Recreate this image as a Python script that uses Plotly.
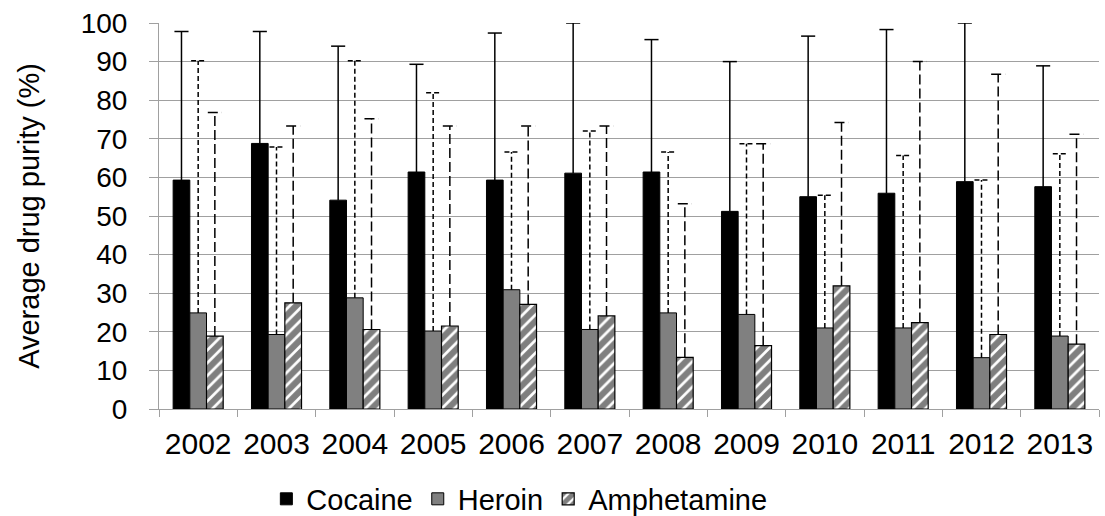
import numpy as np
import plotly.graph_objects as go

years = ["2002", "2003", "2004", "2005", "2006", "2007", "2008", "2009", "2010", "2011", "2012", "2013"]
cocaine = [59.3, 68.8, 54.1, 61.4, 59.3, 61.1, 61.4, 51.2, 55.0, 55.9, 58.9, 57.6]
cocaine_sd = [38.5, 29.0, 39.9, 27.9, 38.1, 38.9, 34.3, 38.8, 41.6, 42.4, 41.1, 31.3]
heroin = [24.9, 19.3, 28.8, 20.2, 30.9, 20.6, 24.9, 24.5, 21.0, 21.0, 13.3, 18.9]
heroin_sd = [65.3, 48.6, 61.4, 61.7, 35.7, 51.4, 41.7, 44.2, 34.4, 44.7, 46.0, 47.2]
amphetamine = [18.9, 27.5, 20.6, 21.5, 27.1, 24.1, 13.4, 16.4, 31.9, 22.4, 19.3, 16.8]
amphetamine_sd = [57.9, 45.8, 54.6, 51.8, 46.2, 49.2, 39.8, 52.3, 42.3, 67.6, 67.4, 54.4]
y_ticks = list(range(0, 101, 10))

FONT = "Liberation Sans, Arial, sans-serif"
GRID = "#a0a0a0"

x = np.arange(len(years))
w = 0.213
cap = 0.09

series = [
    ("Cocaine", cocaine, cocaine_sd, -1.5 * w, dict(color="black", line=dict(color="black", width=1)), "solid"),
    ("Heroin", heroin, heroin_sd, -0.5 * w, dict(color="#808080", line=dict(color="black", width=1)), "5px,3px"),
    ("Amphetamine", amphetamine, amphetamine_sd, 0.5 * w,
     dict(color="white", line=dict(color="black", width=1.2),
          pattern=dict(shape="/", fgcolor="black", bgcolor="white", size=9, solidity=0.7,
                       fillmode="overlay")), "10px,4px"),
]

fig = go.Figure()
for name, vals, sd, off, marker, _ in series:
    fig.add_trace(go.Bar(x=x, y=vals, name=name, offset=off, width=w, marker=marker))

for name, vals, sd, off, marker, dash in series:
    ex, ey = [], []
    for xi, v, s in zip(x, vals, sd):
        c = xi + off + w / 2
        top = v + s
        ex += [c - cap, c + cap, None, c, c, None]
        ey += [top, top, None, v, top, None]
    fig.add_trace(go.Scatter(x=ex, y=ey, mode="lines", showlegend=False, hoverinfo="skip",
                             line=dict(color="black", width=1.5, dash=dash)))

fig.update_layout(
    width=1105, height=516,
    barmode="overlay",
    plot_bgcolor="white", paper_bgcolor="white",
    margin=dict(l=159, r=6, t=23, b=107, autoexpand=False),
    font=dict(family=FONT, color="black"),
    legend=dict(orientation="h", xref="container", yref="container", x=0.47, y=0.033,
                xanchor="center", yanchor="middle", font=dict(size=29), itemwidth=30,
                traceorder="normal"),
)
fig.update_xaxes(
    range=[-0.5, len(years) - 0.5], tickvals=x, ticktext=years, ticks="",
    tickfont=dict(size=30), ticklabelstandoff=8, automargin=False,
    showline=True, linecolor=GRID, linewidth=1, showgrid=False, zeroline=False,
    minor=dict(tick0=0.5, dtick=1, ticks="outside", ticklen=7, tickcolor=GRID, tickwidth=1, showgrid=False),
)
fig.update_yaxes(
    range=[0, 100], tickvals=y_ticks, ticks="outside", ticklen=9, tickcolor=GRID, tickwidth=1,
    tickfont=dict(size=28), ticklabelstandoff=16, automargin=False,
    showline=True, linecolor=GRID, linewidth=1, showgrid=True, gridcolor=GRID, gridwidth=1,
    zeroline=False,
    title=dict(text="Average drug purity (%)", font=dict(size=29), standoff=32),
)

fig.write_html("out.html", config={"displayModeBar": False},
               post_script="document.body.style.margin='0';document.body.style.overflow='hidden';")
